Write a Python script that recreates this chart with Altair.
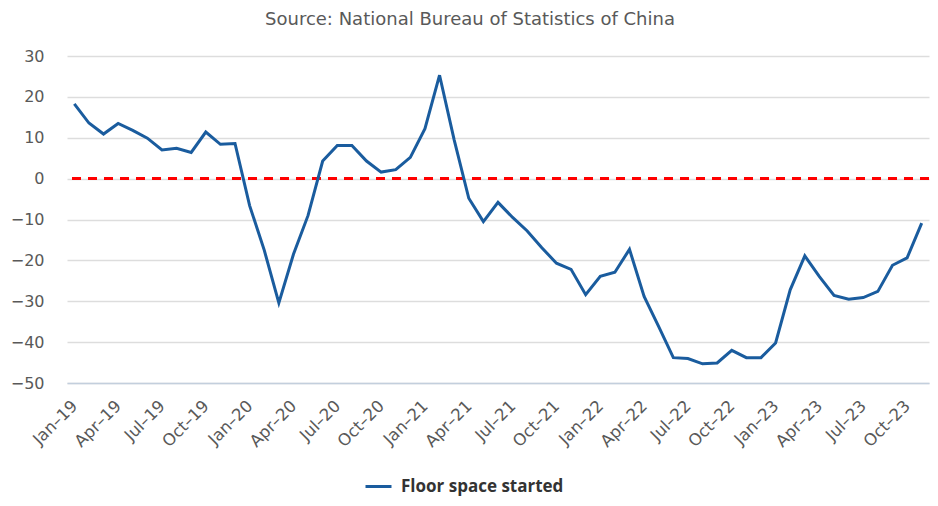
import altair as alt
import pandas as pd

months = [
    "Jan–19","Feb–19","Mar–19","Apr–19","May–19","Jun–19","Jul–19","Aug–19","Sep–19","Oct–19","Nov–19","Dec–19",
    "Jan–20","Feb–20","Mar–20","Apr–20","May–20","Jun–20","Jul–20","Aug–20","Sep–20","Oct–20","Nov–20","Dec–20",
    "Jan–21","Feb–21","Mar–21","Apr–21","May–21","Jun–21","Jul–21","Aug–21","Sep–21","Oct–21","Nov–21","Dec–21",
    "Jan–22","Feb–22","Mar–22","Apr–22","May–22","Jun–22","Jul–22","Aug–22","Sep–22","Oct–22","Nov–22","Dec–22",
    "Jan–23","Feb–23","Mar–23","Apr–23","May–23","Jun–23","Jul–23","Aug–23","Sep–23","Oct–23","Nov–23",
]
floor_space_started = [
    18.3, 13.6, 10.9, 13.5, 11.8, 9.9, 7.0, 7.4, 6.4, 11.4, 8.4, 8.6,
    -6.6, -17.5, -30.4, -18.5, -9.0, 4.3, 8.1, 8.1, 4.3, 1.6, 2.2, 5.2,
    12.2, 25.3, 9.5, -4.8, -10.5, -5.8, -9.5, -12.8, -16.9, -20.7, -22.2, -28.4,
    -23.9, -22.9, -17.3, -28.8, -36.2, -43.8, -44.0, -45.3, -45.1, -42.0, -43.8, -43.8,
    -40.2, -27.2, -18.9, -24.0, -28.6, -29.5, -29.1, -27.6, -21.2, -19.4, -10.9,
]
tick_labels = months[::3]
y_ticks = [-50, -40, -30, -20, -10, 0, 10, 20, 30]
series_name = "Floor space started"
title_text = "Source: National Bureau of Statistics of China"

df = pd.DataFrame({"month": months, "value": floor_space_started, "series": series_name})

FONT = "DejaVu Sans"
LEGEND_FONT = "Open Sans"

line = alt.Chart(df).mark_line(strokeWidth=3).encode(
    x=alt.X("month:O", sort=months, scale=alt.Scale(type="point", padding=0.5),
            axis=alt.Axis(values=tick_labels, labelAngle=-45, labelAlign="right",
                          labelBaseline="middle", labelPadding=20, ticks=False,
                          domain=True, domainColor="#c3cfdd", domainWidth=1.5,
                          grid=False, title=None, labelFont=FONT, labelFontSize=16.5,
                          labelColor="#595959", labelOverlap=False)),
    y=alt.Y("value:Q", scale=alt.Scale(domain=[-50, 30], nice=False),
            axis=alt.Axis(values=y_ticks, ticks=False,
                          domain=False, grid=True, gridColor="#dddddd", gridWidth=1.5,
                          labelPadding=23, title=None, labelFont=FONT, labelFontSize=16,
                          labelColor="#595959")),
    color=alt.Color("series:N", scale=alt.Scale(range=["#1a5c9e"]),
                    legend=alt.Legend(title=None, orient="none", legendX=297, legendY=416,
                                      symbolType="stroke", symbolSize=676, symbolStrokeWidth=3,
                                      labelFont=LEGEND_FONT, labelFontSize=17, labelFontWeight="bold",
                                      labelColor="#333333", labelOffset=8, padding=0,
                                      labelLimit=400)),
)

zero = alt.Chart(df).mark_rule(color="#ff0000", strokeWidth=2.5, strokeDash=[9, 7]).encode(
    y=alt.datum(0)
)

chart = alt.layer(zero, line).properties(
    width=862,
    height=327,
    autosize=alt.AutoSizeParams(type="none"),
    padding={"left": 59, "top": 48, "right": 1, "bottom": 115},
    title=alt.TitleParams(title_text, font=FONT, fontSize=18, fontWeight="normal",
                          color="#595959", anchor="middle", dx=-28, offset=19),
).configure_view(stroke=None)

chart.save("out.html", embed_options={"renderer": "svg", "actions": False})
